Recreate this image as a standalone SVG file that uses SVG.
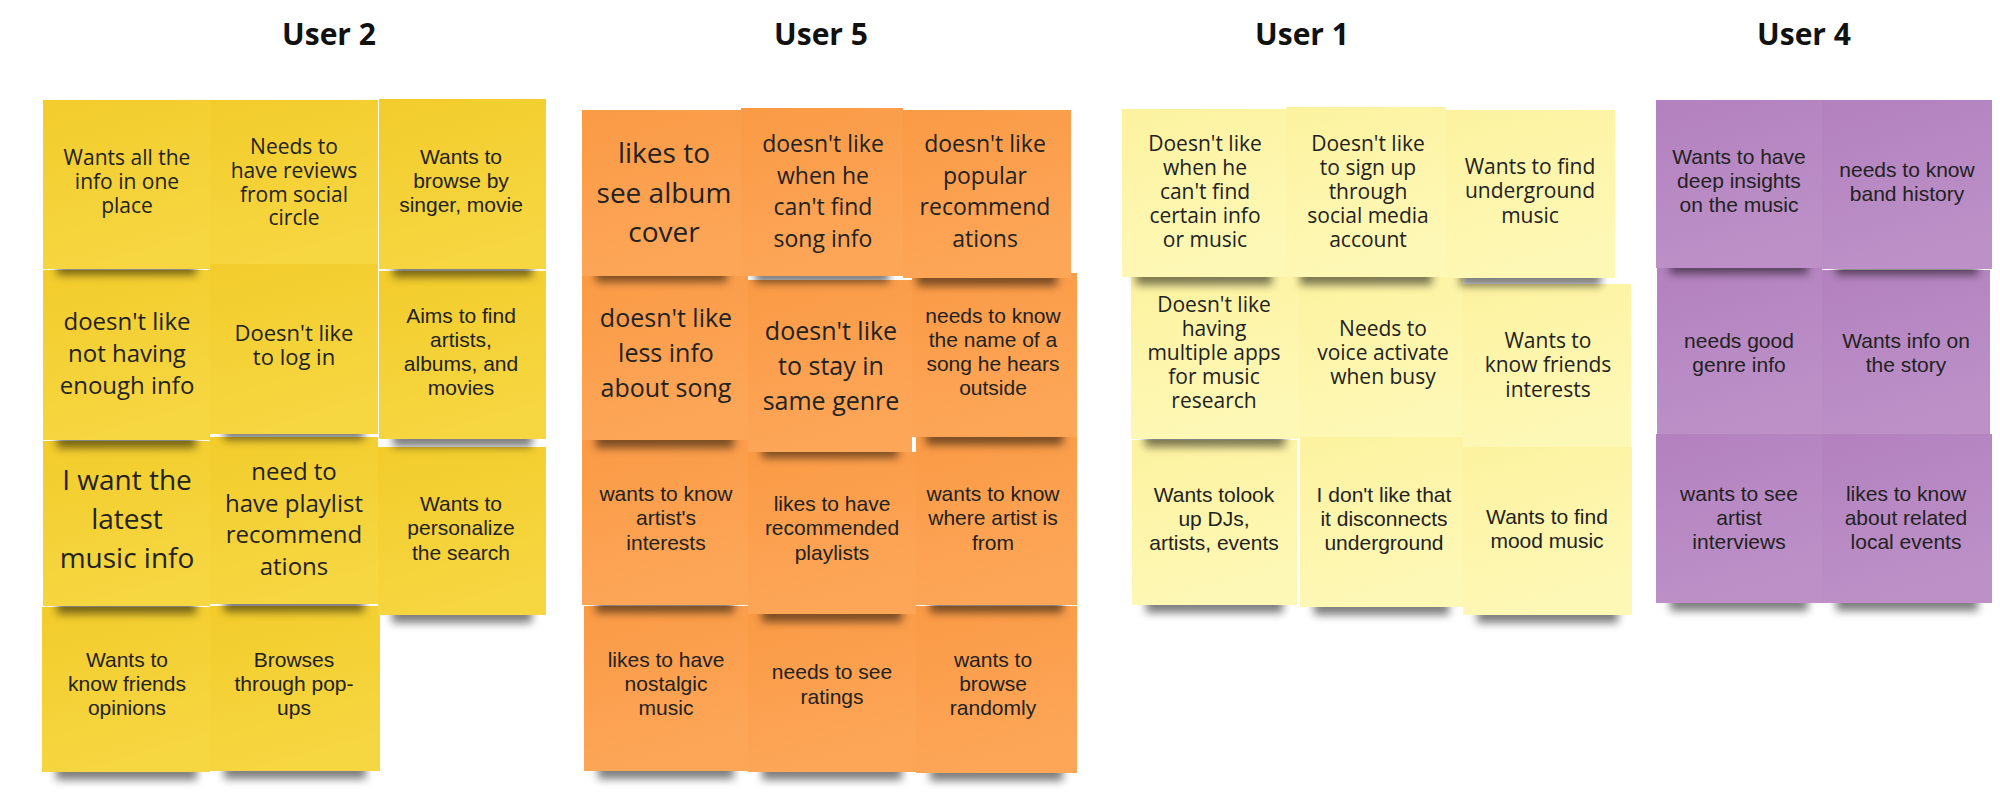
<svg xmlns="http://www.w3.org/2000/svg" width="2000" height="810" viewBox="0 0 2000 810">
<defs>
  <linearGradient id="gY" x1="0" y1="0" x2="0.3" y2="1"><stop offset="0" stop-color="#F2CC2B"/><stop offset="1" stop-color="#F6D641"/></linearGradient>
  <linearGradient id="gO" x1="0" y1="0" x2="0.3" y2="1"><stop offset="0" stop-color="#FA9A45"/><stop offset="1" stop-color="#FDA658"/></linearGradient>
  <linearGradient id="gP" x1="0" y1="0" x2="0.3" y2="1"><stop offset="0" stop-color="#FCF29F"/><stop offset="1" stop-color="#FEF8B6"/></linearGradient>
  <linearGradient id="gV" x1="0" y1="0" x2="0.3" y2="1"><stop offset="0" stop-color="#B281BE"/><stop offset="1" stop-color="#BD90C8"/></linearGradient>
  <filter id="blur" x="-20%" y="-150%" width="140%" height="400%"><feGaussianBlur stdDeviation="4"/></filter>
</defs>
<style>
  .title{font-family:"Open Sans",sans-serif;font-weight:700;font-size:30px;fill:#111;text-anchor:middle}
  .os{font-family:"Open Sans",sans-serif;fill:#222;text-anchor:middle}
  .ar{font-family:"Liberation Sans",Arial,sans-serif;fill:#222;text-anchor:middle;font-size:21px}
  .sh{fill:#000;opacity:.5;filter:url(#blur)}
  .y{fill:url(#gY)} .o{fill:url(#gO)} .p{fill:url(#gP)} .v{fill:url(#gV)}
</style>
<rect width="2000" height="810" fill="#fff"/>
<g id="connectors"/>

<g id="titles">
  <text class="title" x="329" y="45">User 2</text>
  <text class="title" x="821" y="45">User 5</text>
  <text class="title" x="1302" y="45">User 1</text>
  <text class="title" x="1804" y="45">User 4</text>
</g>

<!-- User 2 -->
<g id="user2">
<g id="u2-r4c1"><rect class="sh" x="56" y="762" width="141" height="18"/><rect class="y" x="42" y="607" width="168" height="165"/>
<text class="ar"><tspan x="127" y="667">Wants to</tspan><tspan x="127" y="691">know friends</tspan><tspan x="127" y="715">opinions</tspan></text></g>
<g id="u2-r4c2"><rect class="sh" x="224" y="761" width="142" height="18"/><rect class="y" x="210" y="606" width="170" height="165"/>
<text class="ar"><tspan x="294" y="667">Browses</tspan><tspan x="294" y="691">through pop-</tspan><tspan x="294" y="715">ups</tspan></text></g>
<g id="u2-r3c1"><rect class="sh" x="57" y="596" width="139" height="18"/><rect class="y" x="43" y="441" width="167" height="165"/>
<text class="os" font-size="28"><tspan x="127" y="490">I want the</tspan><tspan x="127" y="529">latest</tspan><tspan x="127" y="568">music info</tspan></text></g>
<g id="u2-r3c2"><rect class="sh" x="224" y="594" width="140" height="18"/><rect class="y" x="210" y="437" width="168" height="167"/>
<text class="os" font-size="24"><tspan x="294" y="480">need to</tspan><tspan x="294" y="512">have playlist</tspan><tspan x="294" y="543">recommend</tspan><tspan x="294" y="575">ations</tspan></text></g>
<g id="u2-r3c3"><rect class="sh" x="392" y="605" width="140" height="18"/><rect class="y" x="378" y="447" width="168" height="168"/>
<text class="ar"><tspan x="461" y="511">Wants to</tspan><tspan x="461" y="535">personalize</tspan><tspan x="461" y="560">the search</tspan></text></g>
<g id="u2-r2c1"><rect class="sh" x="57" y="430" width="139" height="18"/><rect class="y" x="43" y="270" width="167" height="170"/>
<text class="os" font-size="24"><tspan x="127" y="330">doesn't like</tspan><tspan x="127" y="362">not having</tspan><tspan x="127" y="394">enough info</tspan></text></g>
<g id="u2-r2c2"><rect class="sh" x="224" y="424" width="140" height="16"/><rect class="y" x="210" y="264" width="168" height="170"/>
<text class="os" font-size="22"><tspan x="294" y="341">Doesn't like</tspan><tspan x="294" y="365">to log in</tspan></text></g>
<g id="u2-r2c3"><rect class="sh" x="393" y="429" width="139" height="18"/><rect class="y" x="379" y="271" width="167" height="168"/>
<text class="ar"><tspan x="461" y="323">Aims to find</tspan><tspan x="461" y="347">artists,</tspan><tspan x="461" y="371">albums, and</tspan><tspan x="461" y="395">movies</tspan></text></g>
<g id="u2-r1c1"><rect class="sh" x="57" y="259" width="139" height="16"/><rect class="y" x="43" y="100" width="167" height="169"/>
<text class="os" font-size="21"><tspan x="127" y="165">Wants all the</tspan><tspan x="127" y="189">info in one</tspan><tspan x="127" y="213">place</tspan></text></g>
<g id="u2-r1c2"><rect class="y" x="210" y="100" width="168" height="164"/>
<text class="os" font-size="21"><tspan x="294" y="154">Needs to</tspan><tspan x="294" y="178">have reviews</tspan><tspan x="294" y="202">from social</tspan><tspan x="294" y="225">circle</tspan></text></g>
<g id="u2-r1c3"><rect class="sh" x="393" y="259" width="139" height="18"/><rect class="y" x="379" y="99" width="167" height="170"/>
<text class="ar"><tspan x="461" y="164">Wants to</tspan><tspan x="461" y="188">browse by</tspan><tspan x="461" y="212">singer, movie</tspan></text></g>
</g>

<!-- User 5 -->
<g id="user5">
<g id="u5-r4c1"><rect class="sh" x="598" y="761" width="136" height="18"/><rect class="o" x="584" y="606" width="164" height="165"/>
<text class="ar"><tspan x="666" y="667">likes to have</tspan><tspan x="666" y="691">nostalgic</tspan><tspan x="666" y="715">music</tspan></text></g>
<g id="u5-r4c2"><rect class="sh" x="762" y="762" width="140" height="18"/><rect class="o" x="748" y="614" width="168" height="158"/>
<text class="ar"><tspan x="832" y="679">needs to see</tspan><tspan x="832" y="704">ratings</tspan></text></g>
<g id="u5-r4c3"><rect class="sh" x="930" y="763" width="133" height="18"/><rect class="o" x="916" y="606" width="161" height="167"/>
<text class="ar"><tspan x="993" y="667">wants to</tspan><tspan x="993" y="691">browse</tspan><tspan x="993" y="715">randomly</tspan></text></g>
<g id="u5-r3c1"><rect class="sh" x="596" y="595" width="138" height="18"/><rect class="o" x="582" y="440" width="166" height="165"/>
<text class="ar"><tspan x="666" y="501">wants to know</tspan><tspan x="666" y="525">artist's</tspan><tspan x="666" y="550">interests</tspan></text></g>
<g id="u5-r3c2"><rect class="sh" x="762" y="604" width="140" height="18"/><rect class="o" x="748" y="452" width="168" height="162"/>
<text class="ar"><tspan x="832" y="511">likes to have</tspan><tspan x="832" y="535">recommended</tspan><tspan x="832" y="560">playlists</tspan></text></g>
<g id="u5-r3c3"><rect class="sh" x="930" y="595" width="133" height="18"/><rect class="o" x="916" y="437" width="161" height="168"/>
<text class="ar"><tspan x="993" y="501">wants to know</tspan><tspan x="993" y="525">where artist is</tspan><tspan x="993" y="550">from</tspan></text></g>
<g id="u5-r2c1"><rect class="sh" x="596" y="430" width="138" height="18"/><rect class="o" x="582" y="276" width="166" height="164"/>
<text class="os" font-size="25"><tspan x="666" y="327">doesn't like</tspan><tspan x="666" y="362">less info</tspan><tspan x="666" y="397">about song</tspan></text></g>
<g id="u5-r2c2"><rect class="sh" x="762" y="442" width="136" height="16"/><rect class="o" x="748" y="280" width="164" height="172"/>
<text class="os" font-size="25"><tspan x="831" y="340">doesn't like</tspan><tspan x="831" y="375">to stay in</tspan><tspan x="831" y="410">same genre</tspan></text></g>
<g id="u5-r2c3"><rect class="sh" x="926" y="427" width="137" height="18"/><rect class="o" x="912" y="273" width="165" height="164"/>
<text class="ar"><tspan x="993" y="323">needs to know</tspan><tspan x="993" y="347">the name of a</tspan><tspan x="993" y="371">song he hears</tspan><tspan x="993" y="395">outside</tspan></text></g>
<g id="u5-r1c1"><rect class="sh" x="596" y="266" width="131" height="16"/><rect class="o" x="582" y="110" width="159" height="166"/>
<text class="os" font-size="28"><tspan x="664" y="163">likes to</tspan><tspan x="664" y="203">see album</tspan><tspan x="664" y="242">cover</tspan></text></g>
<g id="u5-r1c2"><rect class="sh" x="755" y="267" width="134" height="16"/><rect class="o" x="741" y="108" width="162" height="168"/>
<text class="os" font-size="23"><tspan x="823" y="152">doesn't like</tspan><tspan x="823" y="184">when he</tspan><tspan x="823" y="215">can't find</tspan><tspan x="823" y="247">song info</tspan></text></g>
<g id="u5-r1c3"><rect class="sh" x="917" y="268" width="140" height="18"/><rect class="o" x="903" y="110" width="168" height="168"/>
<text class="os" font-size="23"><tspan x="985" y="152">doesn't like</tspan><tspan x="985" y="184">popular</tspan><tspan x="985" y="215">recommend</tspan><tspan x="985" y="247">ations</tspan></text></g>
</g>

<!-- User 1 -->
<g id="user1">
<g id="u1-r3c1"><rect class="sh" x="1146" y="595" width="137" height="18"/><rect class="p" x="1132" y="440" width="165" height="165"/>
<text class="ar"><tspan x="1214" y="502">Wants tolook</tspan><tspan x="1214" y="526">up DJs,</tspan><tspan x="1214" y="550">artists, events</tspan></text></g>
<g id="u1-r3c2"><rect class="sh" x="1314" y="597" width="135" height="18"/><rect class="p" x="1300" y="437" width="163" height="170"/>
<text class="ar"><tspan x="1384" y="502">I don't like that</tspan><tspan x="1384" y="526">it disconnects</tspan><tspan x="1384" y="550">underground</tspan></text></g>
<g id="u1-r3c3"><rect class="sh" x="1477" y="605" width="141" height="18"/><rect class="p" x="1463" y="447" width="169" height="168"/>
<text class="ar"><tspan x="1547" y="524">Wants to find</tspan><tspan x="1547" y="548">mood music</tspan></text></g>
<g id="u1-r2c1"><rect class="sh" x="1145" y="429" width="140" height="18"/><rect class="p" x="1131" y="277" width="168" height="162"/>
<text class="os" font-size="21"><tspan x="1214" y="312">Doesn't like</tspan><tspan x="1214" y="336">having</tspan><tspan x="1214" y="360">multiple apps</tspan><tspan x="1214" y="384">for music</tspan><tspan x="1214" y="408">research</tspan></text></g>
<g id="u1-r2c2"><rect class="p" x="1299" y="277" width="164" height="160"/>
<text class="os" font-size="21"><tspan x="1383" y="336">Needs to</tspan><tspan x="1383" y="360">voice activate</tspan><tspan x="1383" y="384">when busy</tspan></text></g>
<g id="u1-r2c3"><rect class="p" x="1463" y="284" width="168" height="163"/>
<text class="os" font-size="21"><tspan x="1548" y="348">Wants to</tspan><tspan x="1548" y="372">know friends</tspan><tspan x="1548" y="397">interests</tspan></text></g>
<g id="u1-r1c1"><rect class="sh" x="1136" y="267" width="136" height="18"/><rect class="p" x="1122" y="109" width="164" height="168"/>
<text class="os" font-size="21"><tspan x="1205" y="151">Doesn't like</tspan><tspan x="1205" y="175">when he</tspan><tspan x="1205" y="199">can't find</tspan><tspan x="1205" y="223">certain info</tspan><tspan x="1205" y="247">or music</tspan></text></g>
<g id="u1-r1c2"><rect class="sh" x="1300" y="267" width="132" height="18"/><rect class="p" x="1286" y="107" width="160" height="170"/>
<text class="os" font-size="21"><tspan x="1368" y="151">Doesn't like</tspan><tspan x="1368" y="175">to sign up</tspan><tspan x="1368" y="199">through</tspan><tspan x="1368" y="223">social media</tspan><tspan x="1368" y="247">account</tspan></text></g>
<g id="u1-r1c3"><rect class="sh" x="1460" y="268" width="141" height="18"/><rect class="p" x="1446" y="110" width="169" height="168"/>
<text class="os" font-size="21"><tspan x="1530" y="174">Wants to find</tspan><tspan x="1530" y="198">underground</tspan><tspan x="1530" y="223">music</tspan></text></g>
</g>

<!-- User 4 -->
<g id="user4">
<g id="u4-r3c1"><rect class="sh" x="1670" y="593" width="138" height="18"/><rect class="v" x="1656" y="434" width="166" height="169"/>
<text class="ar"><tspan x="1739" y="501">wants to see</tspan><tspan x="1739" y="525">artist</tspan><tspan x="1739" y="549">interviews</tspan></text></g>
<g id="u4-r3c2"><rect class="sh" x="1836" y="593" width="142" height="18"/><rect class="v" x="1822" y="434" width="170" height="169"/>
<text class="ar"><tspan x="1906" y="501">likes to know</tspan><tspan x="1906" y="525">about related</tspan><tspan x="1906" y="549">local events</tspan></text></g>
<g id="u4-r2c1"><rect class="v" x="1657" y="268" width="165" height="166"/>
<text class="ar"><tspan x="1739" y="348">needs good</tspan><tspan x="1739" y="372">genre info</tspan></text></g>
<g id="u4-r2c2"><rect class="v" x="1822" y="270" width="168" height="164"/>
<text class="ar"><tspan x="1906" y="348">Wants info on</tspan><tspan x="1906" y="372">the story</tspan></text></g>
<g id="u4-r1c1"><rect class="sh" x="1670" y="260" width="138" height="14"/><rect class="v" x="1656" y="100" width="166" height="168"/>
<text class="ar"><tspan x="1739" y="164">Wants to have</tspan><tspan x="1739" y="188">deep insights</tspan><tspan x="1739" y="212">on the music</tspan></text></g>
<g id="u4-r1c2"><rect class="sh" x="1836" y="261" width="142" height="14"/><rect class="v" x="1822" y="100" width="170" height="169"/>
<text class="ar"><tspan x="1907" y="177">needs to know</tspan><tspan x="1907" y="201">band history</tspan></text></g>
</g>
</svg>
